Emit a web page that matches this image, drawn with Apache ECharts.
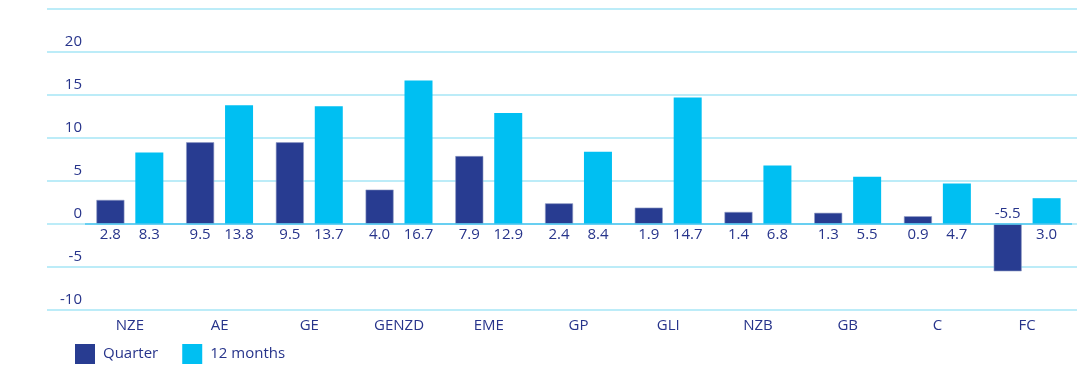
<!DOCTYPE html>
<html>
<head>
<meta charset="utf-8">
<script src="https://cdn.jsdelivr.net/npm/echarts@6/dist/echarts.min.js"></script>
<style>html,body{margin:0;padding:0;background:#fff;}#c{width:1077px;height:370px;}</style>
</head>
<body>
<div id="c"></div>
<script>
const categories = ['NZE','AE','GE','GENZD','EME','GP','GLI','NZB','GB','C','FC'];
const quarter = [2.8, 9.5, 9.5, 4.0, 7.9, 2.4, 1.9, 1.4, 1.3, 0.9, -5.5];
const months12 = [8.3, 13.8, 13.7, 16.7, 12.9, 8.4, 14.7, 6.8, 5.5, 4.7, 3.0];
const seriesNames = ['Quarter', '12 months'];
const yTicks = {min: -10, max: 25, interval: 5};

const navy = '#283c91';
const cyan = '#00bff2';
const txt = '#27348b';
const font = 'Open Sans';

function withLabels(arr) {
  return arr.map(v => ({
    value: v,
    label: {position: v < 0 ? 'top' : 'bottom', distance: 3}
  }));
}

const chart = echarts.init(document.getElementById('c'));
chart.setOption({
  animation: false,
  textStyle: {fontFamily: font},
  grid: [
    {left: 47, right: 0, top: 9, bottom: 60},
    {left: 85, right: 5, top: 9, bottom: 60}
  ],
  xAxis: [
    {gridIndex: 0, type: 'value', show: false},
    {gridIndex: 1, type: 'category', data: categories,
     axisLine: {show: false}, axisTick: {show: false},
     axisLabel: {color: txt, fontSize: 15, fontFamily: font, margin: 0,
       verticalAlign: 'middle'},
     position: 'bottom', offset: 16}
  ],
  yAxis: [
    {gridIndex: 0, type: 'value', min: yTicks.min, max: yTicks.max, interval: yTicks.interval,
     axisLine: {show: false}, axisTick: {show: false},
     splitLine: {lineStyle: {color: '#a6e6f6', width: 1.5}},
     axisLabel: {inside: true, align: 'right', margin: 35, verticalAlign: 'bottom',
       padding: [0,0,3,0], color: txt, fontSize: 15, fontFamily: font,
       formatter: v => v === yTicks.max ? '' : String(v)}},
    {gridIndex: 1, type: 'value', min: yTicks.min, max: yTicks.max, interval: yTicks.interval,
     show: false, splitLine: {show: false}}
  ],
  legend: {
    left: 70, bottom: 1, itemWidth: 20, itemHeight: 20, itemGap: 24,
    icon: 'rect', data: seriesNames,
    itemStyle: {borderWidth: 0},
    textStyle: {color: txt, fontSize: 15, fontFamily: font, padding: [0,0,0,3]}
  },
  series: [
    {name: seriesNames[0], type: 'bar', xAxisIndex: 1, yAxisIndex: 1,
     data: withLabels(quarter), barWidth: 28, barGap: '39%',
     itemStyle: {color: navy, borderColor: '#8e9ac4', borderWidth: 0.6},
     label: {show: true, color: txt, fontSize: 15, fontFamily: font, formatter: p => p.value.toFixed(1)},
     markLine: {silent: true, symbol: 'none', label: {show: false},
       lineStyle: {color: '#4cc6ef', width: 1.5, type: 'solid'}, data: [{yAxis: 0}]}},
    {name: seriesNames[1], type: 'bar', xAxisIndex: 1, yAxisIndex: 1,
     data: withLabels(months12), barWidth: 28,
     itemStyle: {color: cyan},
     label: {show: true, color: txt, fontSize: 15, fontFamily: font, formatter: p => p.value.toFixed(1)}}
  ]
});
</script>
</body>
</html>
